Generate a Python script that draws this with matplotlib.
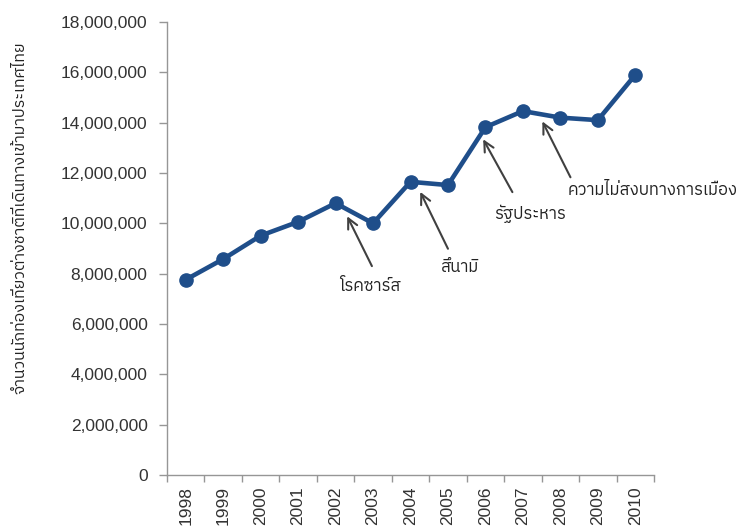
import matplotlib
matplotlib.use("Agg")
import matplotlib.pyplot as plt
from matplotlib import font_manager
from matplotlib.ticker import FuncFormatter, FixedLocator

years = ["1998", "1999", "2000", "2001", "2002", "2003", "2004",
         "2005", "2006", "2007", "2008", "2009", "2010"]
tourists = [7760000, 8580000, 9510000, 10060000, 10800000, 10000000, 11650000,
            11520000, 13820000, 14460000, 14200000, 14100000, 15900000]
y_label = "จำนวนนักท่องเที่ยวต่างชาติที่เดินทางเข้ามาประเทศไทย"
events = ["โรคซาร์ส", "สึนามิ", "รัฐประหาร", "ความไม่สงบทางการเมือง"]
event_years = ["2002", "2004", "2006", "2007"]


def find_thai_font():
    try:
        from fontTools.ttLib import TTFont
    except Exception:
        return None
    preferred = []
    others = []
    for f in font_manager.fontManager.ttflist:
        try:
            tt = TTFont(f.fname, fontNumber=0, lazy=True)
            cmap = tt.getBestCmap()
            if cmap and 0x0E01 in cmap and 0x0E2A in cmap:
                if "Sans" in f.name or "Thai" in f.name:
                    preferred.append(f.name)
                else:
                    others.append(f.name)
        except Exception:
            continue
    lst = preferred + others
    return lst[0] if lst else None


thai = find_thai_font()
fam = ["Liberation Sans", "DejaVu Sans"]
thai_fam = ([thai] if thai else []) + ["DejaVu Sans"]
plt.rcParams['font.family'] = fam

fig = plt.figure(figsize=(7.36, 5.30), dpi=100)
ax = fig.add_axes([167 / 736, 1 - 475 / 530, (654 - 167) / 736, (475 - 22) / 530])

x = list(range(len(years)))
line_color = "#1f4e8a"
ax.plot(x, tourists, color=line_color, lw=3.3, marker="o", ms=9.5,
        markeredgecolor=line_color, markerfacecolor=line_color, zorder=3)

ax.set_xlim(-0.5, len(years) - 0.5)
ax.set_ylim(0, 18000000)
ax.yaxis.set_major_locator(FixedLocator(range(0, 18000001, 2000000)))
ax.yaxis.set_major_formatter(FuncFormatter(lambda v, p: f"{int(v):,}"))
ax.set_xticks(x)
ax.set_xticklabels(years, rotation=90)
ax.set_xticks([i - 0.5 for i in range(len(years) + 1)], minor=True)
ax.tick_params(axis="x", which="major", length=0, pad=8, labelsize=12.5, labelcolor="#333333")
ax.tick_params(axis="x", which="minor", length=5, color="#969696", width=1, direction="out")
ax.tick_params(axis="y", length=6, color="#969696", width=1, direction="out", pad=8,
               labelsize=12.5, labelcolor="#333333")

for s in ["top", "right"]:
    ax.spines[s].set_visible(False)
for s in ["left", "bottom"]:
    ax.spines[s].set_color("#969696")
    ax.spines[s].set_linewidth(1)

ax.set_ylabel(y_label, family=thai_fam, fontsize=11.5, color="#222222")
ax.yaxis.label.set_va("center")
ax.yaxis.set_label_coords((20 - 167) / (654 - 167), (475 - 218) / (475 - 22))

# annotation offsets relative to the event's data point (x in categories, y in values)
head_off = [(0.31, -0.52e6), (0.26, -0.40e6), (-0.06, -0.48e6), (0.52, -0.41e6)]
tail_off = [(0.97, -2.50e6), (1.00, -2.66e6), (0.72, -2.58e6), (1.27, -2.63e6)]
text_off = [(0.92, -3.30e6), (1.33, -3.38e6), (1.19, -3.46e6), (1.19, -3.12e6)]
text_ha = ["center", "center", "center", "left"]
for ev, ey, (hx, hy), (tx, ty), (lx, ly), ha in zip(events, event_years, head_off,
                                                     tail_off, text_off, text_ha):
    i = years.index(ey)
    yv = tourists[i]
    ax.annotate("", xy=(i + hx, yv + hy), xytext=(i + tx, yv + ty),
                arrowprops=dict(arrowstyle="->", color="#404040", lw=1.5,
                                mutation_scale=18, shrinkA=0, shrinkB=0))
    ax.text(i + lx, yv + ly, ev, family=thai_fam, fontsize=12, color="#222222",
            ha=ha, va="center", clip_on=False)

fig.savefig("out.png", dpi=100)
